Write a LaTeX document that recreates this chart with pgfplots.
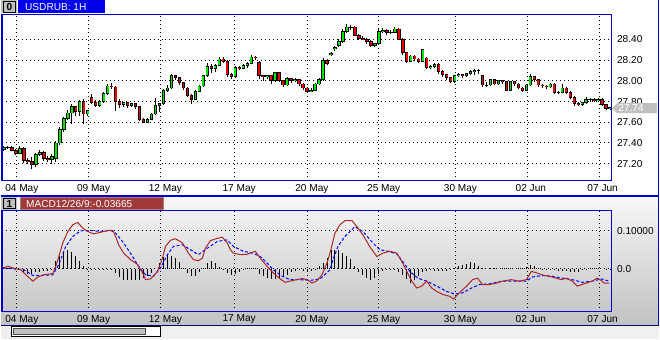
\documentclass[border=0pt]{standalone}
\usepackage{pgfplots}
\pgfplotsset{compat=1.18}
\usepackage{pgfplotstable}
\usepackage{fontspec}
\setmainfont{Liberation Sans}
\definecolor{frameblue}{RGB}{0,0,205}
\definecolor{tabblue}{RGB}{0,0,235}
\definecolor{cgreen}{RGB}{0,230,0}
\definecolor{cred}{RGB}{235,0,0}
\definecolor{macdred}{RGB}{170,40,40}
\definecolor{tabred}{RGB}{160,58,58}
\definecolor{taggray}{RGB}{192,192,192}

\pgfplotstableread{
x o h l c
3 27.34 27.37 27.32 27.36
7 27.36 27.37 27.34 27.36
11 27.36 27.37 27.32 27.33
15 27.33 27.34 27.28 27.30
19 27.30 27.37 27.29 27.35
23 27.35 27.36 27.21 27.23
27 27.23 27.25 27.20 27.22
31 27.22 27.26 27.15 27.19
35 27.19 27.30 27.17 27.29
39 27.29 27.33 27.27 27.31
43 27.31 27.32 27.23 27.25
47 27.25 27.27 27.22 27.24
51 27.24 27.29 27.20 27.27
55 27.25 27.42 27.22 27.40
59 27.40 27.55 27.38 27.53
63 27.53 27.65 27.51 27.64
67 27.64 27.72 27.62 27.69
71 27.69 27.78 27.58 27.75
75 27.75 27.76 27.66 27.70
79 27.70 27.81 27.66 27.80
83 27.80 27.82 27.58 27.68
87 27.68 27.72 27.66 27.71
91 27.84 27.87 27.78 27.79
95 27.79 27.81 27.75 27.76
99 27.76 27.81 27.75 27.80
103 27.80 27.89 27.79 27.88
107 27.88 27.97 27.86 27.95
111 27.95 27.98 27.92 27.94
115 27.94 27.95 27.71 27.80
119 27.80 27.82 27.74 27.77
123 27.77 27.80 27.75 27.79
127 27.79 27.80 27.74 27.76
131 27.76 27.79 27.75 27.78
135 27.78 27.79 27.73 27.75
139 27.75 27.76 27.61 27.63
143 27.63 27.64 27.59 27.60
147 27.60 27.64 27.59 27.63
151 27.63 27.69 27.62 27.68
155 27.68 27.83 27.67 27.76
159 27.76 27.79 27.70 27.78
163 27.78 27.92 27.77 27.91
167 27.91 27.96 27.89 27.93
171 27.93 28.07 27.92 28.05
175 28.05 28.06 28.01 28.03
179 28.03 28.04 27.96 27.98
183 27.98 27.99 27.91 27.93
187 27.93 27.94 27.84 27.86
191 27.86 27.87 27.78 27.82
195 27.82 27.91 27.81 27.90
199 27.90 27.96 27.89 27.95
203 27.95 28.06 27.94 28.05
207 28.05 28.17 28.04 28.14
211 28.14 28.16 28.08 28.12
215 28.12 28.16 28.09 28.15
219 28.15 28.23 28.14 28.21
223 28.21 28.23 28.17 28.19
227 28.19 28.20 28.04 28.06
231 28.06 28.08 28.02 28.04
235 28.04 28.14 28.03 28.13
239 28.13 28.14 28.10 28.12
243 28.12 28.16 28.11 28.15
247 28.15 28.18 28.12 28.17
251 28.17 28.25 28.16 28.23
255 28.23 28.24 28.20 28.22
259 28.18 28.19 28.02 28.05
263 28.05 28.06 28.00 28.04
267 28.04 28.06 28.02 28.05
271 28.05 28.06 27.97 28.00
275 28.00 28.09 27.99 28.08
279 28.08 28.09 27.99 28.00
283 28.00 28.01 27.94 27.96
287 27.96 28.04 27.95 28.02
291 28.02 28.03 27.98 28.00
295 28.00 28.03 27.99 28.01
299 28.01 28.02 27.95 27.97
303 27.97 27.98 27.91 27.93
307 27.93 27.94 27.89 27.90
311 27.90 27.93 27.89 27.91
315 27.91 27.98 27.90 27.97
319 27.97 28.03 27.96 28.01
323 28.01 28.22 28.00 28.20
327 28.20 28.21 28.15 28.17
331 28.25 28.28 28.24 28.26
335 28.31 28.34 28.29 28.32
339 28.34 28.40 28.33 28.38
343 28.38 28.50 28.37 28.48
347 28.48 28.55 28.46 28.52
351 28.52 28.54 28.49 28.52
355 28.52 28.53 28.43 28.44
359 28.44 28.45 28.39 28.41
363 28.41 28.43 28.39 28.40
367 28.40 28.41 28.36 28.38
371 28.38 28.39 28.33 28.34
375 28.34 28.37 28.33 28.36
379 28.36 28.50 28.35 28.48
383 28.48 28.51 28.46 28.49
387 28.49 28.50 28.44 28.47
391 28.47 28.49 28.45 28.47
395 28.47 28.52 28.46 28.50
399 28.50 28.51 28.39 28.40
403 28.40 28.41 28.25 28.27
407 28.27 28.28 28.17 28.19
411 28.19 28.25 28.18 28.24
415 28.24 28.25 28.19 28.21
419 28.21 28.22 28.17 28.19
423 28.19 28.31 28.18 28.30
427 28.22 28.23 28.11 28.13
431 28.13 28.15 28.11 28.14
435 28.14 28.17 28.12 28.16
439 28.16 28.17 28.07 28.09
443 28.09 28.10 28.04 28.06
447 28.06 28.07 28.01 28.03
451 28.03 28.04 27.98 27.99
455 27.99 28.06 27.98 28.05
459 28.05 28.08 28.04 28.06
463 28.06 28.07 28.03 28.05
467 28.05 28.08 28.04 28.07
471 28.07 28.10 28.06 28.09
475 28.09 28.11 28.06 28.10
479 28.10 28.11 28.07 28.10
483 28.05 28.06 27.94 27.96
487 27.96 27.99 27.94 27.96
491 27.96 28.02 27.95 28.01
495 28.01 28.02 27.96 27.97
499 27.97 28.01 27.96 28.00
503 28.00 28.01 27.97 27.99
507 27.99 28.00 27.90 27.91
511 27.91 28.00 27.90 27.99
515 27.99 28.00 27.95 27.97
519 27.97 27.98 27.92 27.93
523 27.93 27.94 27.89 27.91
527 27.91 27.97 27.90 27.96
531 27.96 28.07 27.95 28.04
535 28.04 28.05 27.99 28.01
539 28.01 28.02 27.94 27.96
543 27.96 27.97 27.93 27.95
547 27.95 27.96 27.92 27.94
551 27.94 27.98 27.93 27.97
555 27.97 27.98 27.87 27.89
559 27.89 27.90 27.87 27.89
563 27.89 27.97 27.88 27.93
567 27.93 27.94 27.87 27.89
571 27.89 27.90 27.82 27.84
575 27.84 27.85 27.76 27.78
579 27.78 27.80 27.76 27.77
583 27.77 27.80 27.76 27.79
587 27.79 27.84 27.78 27.82
591 27.82 27.83 27.80 27.82
595 27.82 27.83 27.80 27.81
599 27.81 27.83 27.80 27.82
603 27.82 27.83 27.76 27.77
607 27.77 27.78 27.72 27.73
611 27.73 27.75 27.72 27.74
}\candles

\pgfplotstableread{
x v
3 0.002
7 0.003
11 0.001
15 -0.002
19 -0.004
23 -0.010
27 -0.013
31 -0.013
35 -0.010
39 -0.008
43 -0.007
47 -0.006
51 -0.001
55 0.020
59 0.034
63 0.046
67 0.048
71 0.044
75 0.034
79 0.020
83 0.006
87 -0.002
91 -0.003
95 -0.003
99 -0.002
103 -0.002
107 -0.003
111 -0.004
115 -0.012
119 -0.022
123 -0.029
127 -0.030
131 -0.029
135 -0.029
139 -0.029
143 -0.025
147 -0.020
151 -0.011
155 0.000
159 0.015
163 0.032
167 0.037
171 0.034
175 0.027
179 0.017
183 0.003
187 -0.012
191 -0.020
195 -0.020
199 -0.010
203 0.002
207 0.016
211 0.019
215 0.015
219 0.004
223 -0.004
227 -0.011
231 -0.016
235 -0.013
239 -0.008
243 -0.003
247 0.002
251 0.003
255 0.001
259 -0.013
263 -0.020
267 -0.025
271 -0.028
275 -0.028
279 -0.025
283 -0.020
287 -0.016
291 -0.010
295 -0.006
299 -0.003
303 -0.005
307 -0.007
311 -0.007
315 -0.002
319 0.006
323 0.016
327 0.028
331 0.048
335 0.050
339 0.050
343 0.042
347 0.034
351 0.025
355 0.008
359 -0.008
363 -0.018
367 -0.025
371 -0.029
375 -0.025
379 -0.013
383 -0.005
387 -0.003
391 -0.003
395 -0.003
399 -0.008
403 -0.016
407 -0.028
411 -0.038
415 -0.030
419 -0.020
423 -0.008
427 -0.005
431 -0.004
435 -0.005
439 -0.006
443 -0.007
447 -0.005
451 -0.003
455 0.002
459 0.006
463 0.010
467 0.013
471 0.017
475 0.014
479 0.006
483 0.001
487 0.000
491 0.001
495 0.001
499 0.000
503 0.001
507 0.001
511 0.001
515 0.000
519 0.001
523 0.002
527 0.005
531 0.011
535 0.006
539 0.001
543 -0.002
547 -0.003
551 -0.004
555 -0.004
559 -0.005
563 -0.006
567 -0.007
571 -0.009
575 -0.010
579 -0.008
583 -0.004
587 -0.001
591 0.001
595 0.002
599 0.002
603 0.000
607 -0.004
611 -0.004
}\hist

\pgfplotsset{
  panel/.style={
    scale only axis,
    width=458.25pt,
    xmin=1, xmax=612,
    axis line style={draw=frameblue, line width=0.75pt},
    xtick={16,88,160,234,307,379,456,528,600},
    xticklabels={04 May,09 May,12 May,17 May,20 May,25 May,30 May,02 Jun,07 Jun},
    major tick length=0pt,
    xmajorgrids, ymajorgrids,
    grid style={black, line width=0.75pt, dash pattern=on 0.75pt off 2.25pt},
    tick label style={font=\fontsize{7.6}{9}\selectfont, inner sep=0pt},
    xticklabel style={anchor=north west, xshift=-9pt},
    xticklabel shift=2.4pt,
    yticklabel pos=right,
    yticklabel style={anchor=west},
    yticklabel shift=4.3pt,
  },
  candle/.style={only marks, mark=-, mark size=0pt,
    mark options={draw opacity=0, fill opacity=0},
    error bars/.cd, y dir=plus, y explicit, error mark=none,
    error bar style={#1}},
}

\begin{document}
\begin{tikzpicture}
\begin{scope}[x=0.75pt,y=-0.75pt]
\path[use as bounding box] (0,0) rectangle (660,340);
\fill[white] (0,0) rectangle (660,196);
\shade[top color=white!97!black, bottom color=white!76!black] (0,196) rectangle (660,325);
\fill[white!94!black] (0,325) rectangle (660,340);
\end{scope}

% ---------- price panel ----------
\begin{axis}[panel,
  at={(0.75pt,-135.75pt)}, anchor=south west,
  height=125.25pt,
  ymin=27.033, ymax=28.641,
  ytick={27.2,27.4,27.6,27.8,28.0,28.2,28.4},
  yticklabels={27.20,27.40,27.60,27.80,28.00,28.20,28.40},
]
% wicks
\addplot[candle={black, line width=0.75pt}]
  table[x=x, y=l, y error plus expr={\thisrow{h}-\thisrow{l}}] {\candles};
% rising bodies
\addplot[restrict expr to domain={\thisrow{c}-\thisrow{o}}{0:5},
  candle={black, line width=2.6pt}]
  table[x=x, y expr={\thisrow{o}-0.004}, y error plus expr={max(\thisrow{c}-\thisrow{o},0)+0.008}] {\candles};
\addplot[restrict expr to domain={\thisrow{c}-\thisrow{o}}{0:5},
  candle={cgreen, line width=1.35pt}]
  table[x=x, y expr={\thisrow{o}+0.004}, y error plus expr={max(\thisrow{c}-\thisrow{o}-0.008,0)}] {\candles};
% falling bodies
\addplot[restrict expr to domain={\thisrow{o}-\thisrow{c}}{0.0001:5},
  candle={black, line width=2.6pt}]
  table[x=x, y expr={\thisrow{c}-0.004}, y error plus expr={\thisrow{o}-\thisrow{c}+0.008}] {\candles};
\addplot[restrict expr to domain={\thisrow{o}-\thisrow{c}}{0.0001:5},
  candle={cred, line width=1.35pt}]
  table[x=x, y expr={\thisrow{c}+0.004}, y error plus expr={max(\thisrow{o}-\thisrow{c}-0.008,0)}] {\candles};
\end{axis}

% ---------- MACD panel ----------
\begin{axis}[panel,
  at={(0.75pt,-234pt)}, anchor=south west,
  height=75.75pt,
  ymin=-0.1132, ymax=0.1526,
  ytick={0,0.1},
  yticklabels={0.0,0.10000},
]
\addplot[ycomb, black, line width=0.75pt, mark=none] table[x=x, y=v] {\hist};
\addplot[color=blue, line width=0.75pt, dash pattern=on 2.25pt off 1.5pt, mark=none] coordinates {
(2,0.002) (13,0.0) (23,-0.003) (32,-0.018) (40,-0.018) (52,-0.016) (58,0.011) (65,0.059) (72,0.085) (80,0.100) (90,0.101) (100,0.098) (110,0.101) (115,0.094) (123,0.068) (132,0.032) (138,0.006) (145,-0.016) (153,-0.020) (160,0.002) (167,0.037) (173,0.059) (182,0.063) (190,0.050) (198,0.037) (207,0.054) (217,0.072) (227,0.076) (233,0.059) (243,0.046) (253,0.041) (260,0.032) (267,0.015) (273,-0.003) (282,-0.020) (290,-0.029) (300,-0.029) (310,-0.031) (320,-0.027) (330,-0.003) (333,0.024) (338,0.059) (345,0.085) (355,0.111) (363,0.098) (373,0.068) (380,0.050) (388,0.046) (397,0.039) (403,0.019) (410,-0.007) (418,-0.025) (427,-0.033) (437,-0.046) (447,-0.060) (455,-0.067) (463,-0.064) (472,-0.051) (480,-0.042) (490,-0.040) (503,-0.033) (517,-0.033) (527,-0.033) (533,-0.022) (543,-0.018) (553,-0.020) (563,-0.025) (573,-0.029) (583,-0.036) (593,-0.033) (602,-0.027) (610,-0.033)
};
\addplot[color=macdred, line width=0.75pt, mark=none] coordinates {
(2,0.002) (7,0.006) (12,0.002) (20,-0.003) (25,-0.016) (32,-0.033) (37,-0.022) (43,-0.016) (52,-0.013) (55,0.006) (58,0.032) (62,0.068) (67,0.098) (72,0.116) (77,0.122) (82,0.107) (87,0.098) (93,0.092) (100,0.096) (107,0.101) (112,0.101) (115,0.085) (118,0.063) (123,0.041) (130,0.024) (137,0.011) (142,-0.011) (145,-0.029) (150,-0.027) (157,-0.007) (162,0.028) (165,0.059) (170,0.075) (175,0.079) (182,0.068) (188,0.041) (193,0.024) (198,0.021) (202,0.028) (205,0.054) (210,0.074) (217,0.080) (222,0.083) (227,0.068) (230,0.050) (233,0.041) (240,0.037) (247,0.038) (255,0.046) (260,0.028) (267,0.006) (273,-0.011) (280,-0.027) (285,-0.036) (293,-0.031) (302,-0.026) (307,-0.029) (312,-0.038) (317,-0.032) (322,-0.016) (327,0.015) (330,0.041) (335,0.094) (340,0.116) (345,0.127) (352,0.127) (357,0.111) (363,0.089) (370,0.058) (377,0.032) (383,0.041) (390,0.046) (397,0.041) (402,0.019) (407,-0.007) (412,-0.033) (417,-0.051) (422,-0.046) (427,-0.033) (432,-0.051) (437,-0.060) (443,-0.068) (450,-0.073) (454,-0.080) (458,-0.068) (467,-0.046) (473,-0.029) (478,-0.025) (483,-0.042) (490,-0.042) (497,-0.038) (503,-0.033) (512,-0.029) (520,-0.033) (527,-0.029) (532,-0.007) (537,-0.011) (545,-0.018) (553,-0.022) (562,-0.029) (567,-0.025) (573,-0.033) (578,-0.046) (587,-0.038) (593,-0.033) (598,-0.025) (602,-0.031) (605,-0.038) (610,-0.038)
};
\end{axis}

% ---------- window decorations ----------
\begin{scope}[x=0.75pt,y=-0.75pt]
\draw[frameblue, line width=1.5pt] (0,196) -- (660,196);
\draw[frameblue!60!black, line width=0.75pt] (0,325.5) -- (660,325.5);
\draw[frameblue, line width=0.75pt] (659.5,0) -- (659.5,325);
\draw[frameblue, line width=1.5pt] (1,14) -- (1,181);
\draw[frameblue, line width=1.5pt] (1,211) -- (1,312);
% top tabs
\fill[taggray] (0,0) rectangle (16,13);
\draw[black, line width=0.75pt] (2.5,1.5) rectangle (14.5,12);
\node[font=\bfseries\fontsize{7.6}{9}\selectfont, inner sep=0pt] at (8.5,7) {0};
\fill[tabblue] (17,0) rectangle (104,13);
\node[white, anchor=west, inner sep=0pt, font=\fontsize{7.6}{9}\selectfont] at (24,7) {USDRUB: 1H};
% bottom tabs
\fill[taggray] (0,197) rectangle (16,210);
\draw[black, line width=0.75pt] (2.5,198.5) rectangle (14.5,209);
\node[font=\bfseries\fontsize{7.6}{9}\selectfont, inner sep=0pt] at (8.5,204) {1};
\fill[tabred] (19,197) rectangle (163,210);
\draw[tabred!70!white, line width=0.75pt] (19.5,197.5) rectangle (162.5,209.5);
\node[white, anchor=west, inner sep=0pt, font=\fontsize{7.6}{9}\selectfont] at (25,204) {MACD12/26/9:-0.03665};
% last price tag
\fill[taggray] (613,108) -- (618,103) -- (658,103) -- (658,113) -- (618,113) -- cycle;
\node[white, anchor=west, inner sep=0pt, font=\fontsize{7.6}{9}\selectfont] at (619,108) {27.74};
% scrollbar
\fill[white] (10,326) rectangle (160,338);
\draw[black, line width=0.75pt] (10.5,326.5) rectangle (159.5,337.5);
\fill[taggray] (12,328.5) rectangle (145,335.5);
\draw[black!70, line width=0.75pt] (12.5,328.5) rectangle (144.5,335.5);
\end{scope}
\end{tikzpicture}
\end{document}
